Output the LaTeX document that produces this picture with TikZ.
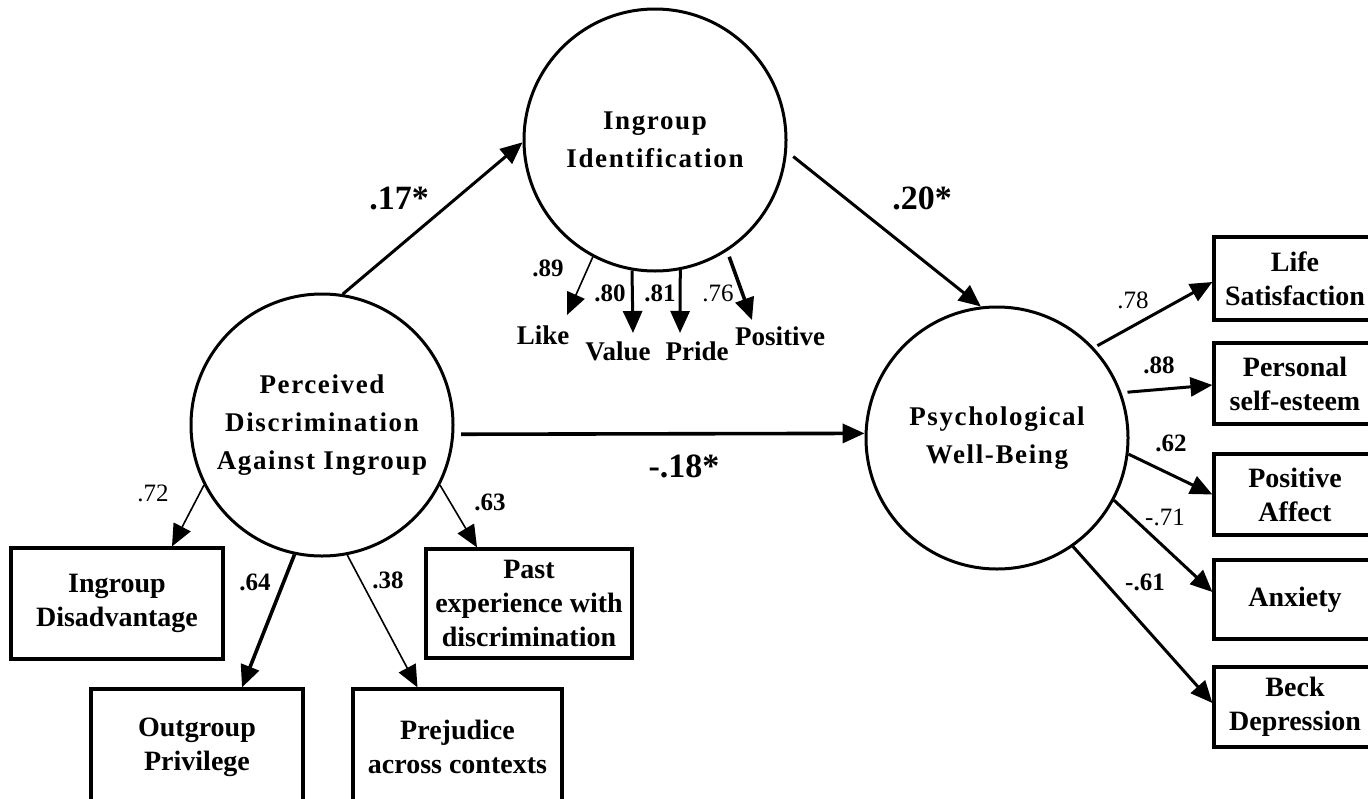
\documentclass[tikz,border=0pt]{standalone}
\usepackage{fontspec}
\setmainfont{Liberation Serif}
\newfontfamily\circfont[LetterSpace=6]{Liberation Serif Bold}
\usetikzlibrary{arrows.meta}
\begin{document}
\begin{tikzpicture}[x=1pt,y=-1pt,
  lat/.style={circle, draw, line width=3pt, minimum size=262pt, inner sep=0pt, align=center,
    font=\circfont\fontsize{27}{38}\selectfont},
  obs/.style={rectangle, draw, line width=3.2pt, inner sep=0pt, align=center,
    font=\bfseries\fontsize{28}{34}\selectfont},
  itm/.style={inner sep=0pt, font=\bfseries\fontsize{27}{30}\selectfont},
  ld/.style={inner sep=0pt, font=\fontsize{25}{28}\selectfont},
  ldb/.style={inner sep=0pt, font=\bfseries\fontsize{25}{28}\selectfont},
  big/.style={inner sep=0pt, font=\bfseries\fontsize{34}{40}\selectfont},
  arr/.style={-{Triangle[length=22pt,width=19pt]}, line width=3pt},
  arrthin/.style={-{Triangle[length=22pt,width=19pt]}, line width=1.6pt},
  arrthick/.style={-{Triangle[length=22pt,width=19pt]}, line width=3.6pt}
]
\useasboundingbox (0,0) rectangle (1368,798);
\clip (0,0) rectangle (1368,798);

% latent variables
\node[lat] (ingr) at (655,140) {Ingroup\\Identification};
\node[lat] (perc) at (322,425) {\fontsize{27}{47}\selectfont Perceived\\Discrimination\\Against Ingroup};
\node[lat] (psy) at (997,438) {Psychological\\Well-Being};

% indicator boxes (left)
\node[obs, minimum width=212pt, minimum height=111pt] (dis) at (117,603.5) {Ingroup\\Disadvantage};
\node[obs, minimum width=212pt, minimum height=116pt] (outg) at (197,747) {Outgroup\\Privilege};
\node[obs, minimum width=209pt, minimum height=116pt] (prej) at (457.5,747) {Prejudice\\across contexts};
\node[obs, minimum width=206pt, minimum height=109pt] (past) at (529,603.5) {Past\\experience with\\discrimination};

% indicator boxes (right)
\node[obs, minimum width=162pt, minimum height=83pt] (life) at (1295,278.5) {Life\\Satisfaction};
\node[obs, minimum width=162pt, minimum height=81pt] (pers) at (1295,383.5) {Personal\\self-esteem};
\node[obs, minimum width=162pt, minimum height=81pt] (posa) at (1295,494.5) {Positive\\Affect};
\node[obs, minimum width=162pt, minimum height=79pt] (anx) at (1295,599.5) {Anxiety};
\node[obs, minimum width=162pt, minimum height=80pt] (beck) at (1295,707) {Beck\\Depression};

% identification items
\node[itm] (like) at (543,335) {Like};
\node[itm] (value) at (618,351) {Value};
\node[itm] (pride) at (697,351) {Pride};
\node[itm] (posi) at (780,336) {Positive};
\coordinate (likeT) at (567,315);
\coordinate (valueT) at (633,333);
\coordinate (prideT) at (680,333);
\coordinate (posT) at (752,320);

% structural paths
\draw[arr] (perc.81) -- (ingr.181);
\draw[arr, shorten <=8pt] (ingr.-5) -- (psy.97);
\draw[arrthick, shorten <=7pt] (perc.-4) -- (psy.178);

% identification loadings
\draw[arrthin] (ingr.242) -- (likeT);
\draw[arr] (ingr.260) -- (valueT);
\draw[arr] (ingr.281) -- (prideT);
\draw[arrthick, shorten <=6pt] (ingr.303) -- (posT);

% discrimination loadings
\draw[arrthin] (perc.207) -- ([xshift=55pt]dis.north);
\draw[arrthick] (perc.258) -- ([xshift=45pt]outg.north);
\draw[arrthin] (perc.281) -- ([xshift=-40pt]prej.north);
\draw[arrthin] (perc.333) -- ([xshift=-52pt]past.north);

% well-being loadings
\draw[arr, shorten <=4pt] (psy.43) -- ([yshift=-3.5pt]life.west);
\draw[arr, shorten <=6pt] (psy.20) -- ([yshift=-1.5pt]pers.west);
\draw[arr] (psy.-7) -- (posa.west);
\draw[arr] (psy.-28) -- ([yshift=7.5pt]anx.west);
\draw[arr] (psy.-55) -- ([yshift=4pt]beck.west);

% path labels
\node[big] (l17) at (399,199) {.17*};
\node[big] (l20) at (922,198) {.20*};
\node[big] (l18) at (684,466) {-.18*};

% loading labels
\node[ldb] (n89) at (548,268) {.89};
\node[ldb] (n80) at (610,293) {.80};
\node[ldb] (n81) at (660,293) {.81};
\node[ld] (n76) at (718,293) {.76};
\node[ld] (n72) at (153,493) {.72};
\node[ldb] (n64) at (255,582) {.64};
\node[ldb] (n38) at (388,580) {.38};
\node[ldb] (n63) at (490,502) {.63};
\node[ld] (n78) at (1133,300) {.78};
\node[ldb] (n88) at (1159,365) {.88};
\node[ldb] (n62) at (1171,443) {.62};
\node[ld] (n71) at (1165,517) {-.71};
\node[ldb] (n61) at (1145,582) {-.61};
\end{tikzpicture}
\end{document}
